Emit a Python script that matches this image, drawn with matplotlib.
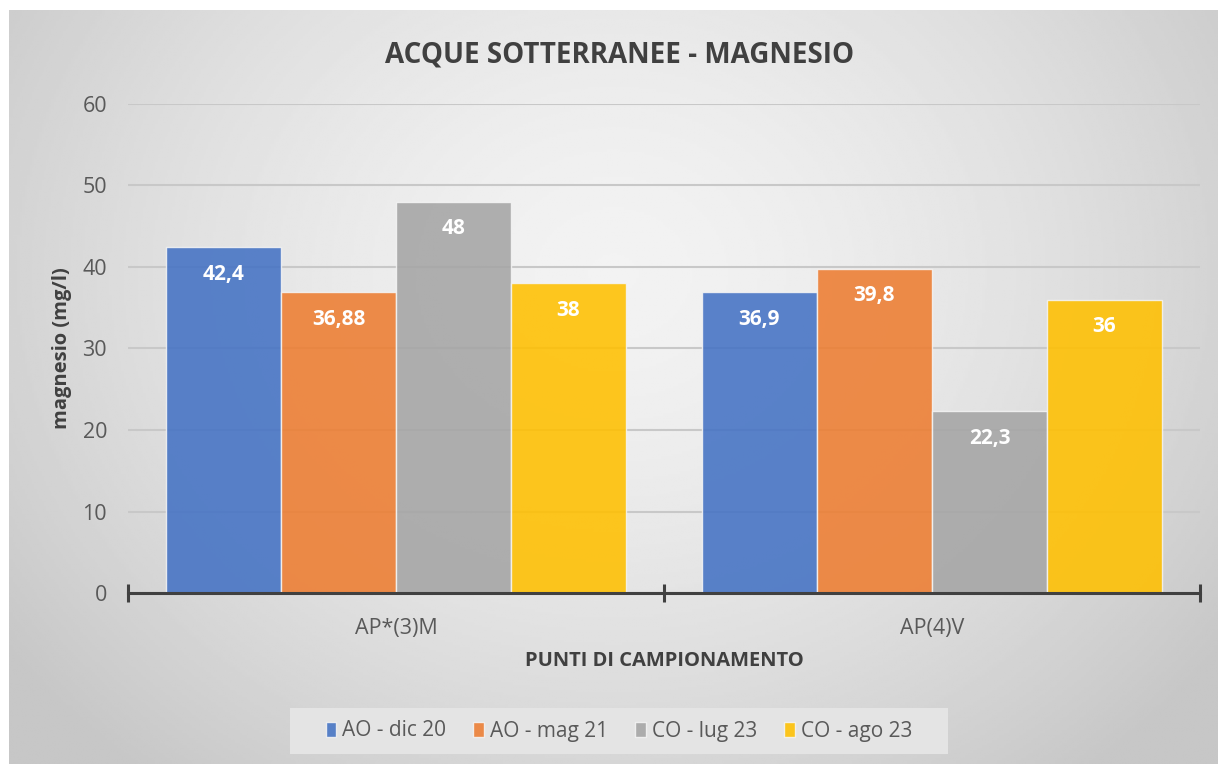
import numpy as np
import matplotlib.pyplot as plt
from matplotlib.patches import Rectangle

plt.rcParams['font.family'] = ['Open Sans', 'DejaVu Sans']

# dati
punti = ['AP*(3)M', 'AP(4)V']
serie = ['AO - dic 20', 'AO - mag 21', 'CO - lug 23', 'CO - ago 23']
ao_dic20 = [42.4, 36.9]
ao_mag21 = [36.88, 39.8]
co_lug23 = [48, 22.3]
co_ago23 = [38, 36]
colori = ['#4472C4', '#ED7D31', '#A5A5A5', '#FFC000']

valori = [ao_dic20, ao_mag21, co_lug23, co_ago23]

fig = plt.figure(figsize=(12.18, 7.64), dpi=100)
W, H = 1218, 764

# sfondo con gradiente radiale (stile Excel)
bg = fig.add_axes([9 / W, 0, 1 - 9 / W, 1 - 10 / H])
yy, xx = np.mgrid[0:1:300j, 0:1:500j]
r = np.sqrt(((xx - 0.5) / 0.62) ** 2 + ((yy - 0.35) / 0.85) ** 2)
r = np.clip(r, 0, 1)
grigio = 0.95 - (0.95 - 0.78) * r ** 1.6
bg.imshow(grigio, cmap='gray', vmin=0, vmax=1, aspect='auto', extent=[0, 1, 1, 0])
bg.axis('off')

ax = fig.add_axes([128 / W, (H - 593) / H, 1072 / W, 489 / H])
ax.patch.set_alpha(0)

w = 0.2146
x = np.array([0.5, 1.5])
for j, (vals, col) in enumerate(zip(valori, colori)):
    pos = x + (j - 1.5) * w
    bars = ax.bar(pos, vals, width=w, color=col, alpha=0.88, edgecolor='#f4f4f4',
                  linewidth=1.0, label=serie[j], zorder=3)
    for b, v in zip(bars, vals):
        testo = ('%g' % v).replace('.', ',')
        ax.annotate(testo, (b.get_x() + b.get_width() / 2, v), xytext=(0, -27),
                    textcoords='offset pixels', ha='center', va='center',
                    color='white', fontsize=15, fontweight='bold', zorder=4)

ax.set_ylim(0, 60)
ax.set_xlim(0, 2)
ax.set_yticks(range(0, 61, 10))
ax.yaxis.grid(True, color='#c8c8c8', linewidth=1.5, zorder=0)
ax.tick_params(axis='y', length=0, pad=15, labelsize=15.5, labelcolor='#595959')

ax.set_xticks([0, 1, 2])
ax.set_xticklabels([])
ax.tick_params(axis='x', which='major', direction='inout', length=13, width=2.2, color='#404040')
ax.set_xticks(x, minor=True)
ax.set_xticklabels(punti, minor=True)
ax.tick_params(axis='x', which='minor', length=0, pad=18, labelsize=15.5, labelcolor='#595959')

for s in ['top', 'right', 'left']:
    ax.spines[s].set_visible(False)
ax.spines['bottom'].set_color('#404040')
ax.spines['bottom'].set_linewidth(2.2)
ax.spines['bottom'].set_zorder(5)

ax.set_ylabel('magnesio (mg/l)', fontsize=14.5, fontweight='bold', color='#404040', va='center')
ax.yaxis.set_label_coords((62 - 128) / 1072, 0.5)
ax.set_xlabel('PUNTI DI CAMPIONAMENTO', fontsize=14.5, fontweight='bold', color='#404040', va='center')
ax.xaxis.set_label_coords(0.5, -(661 - 593) / 489)

fig.text(620 / W, 1 - 55 / H, 'ACQUE SOTTERRANEE - MAGNESIO', ha='center', va='center',
         fontsize=20, fontweight='bold', color='#404040')

# riquadro legenda
fig.patches.append(Rectangle((290 / W, 1 - 754 / H), 658 / W, 46 / H, transform=fig.transFigure,
                             facecolor='#e4e4e4', edgecolor='none', zorder=1))
leg = fig.legend(loc='center', bbox_to_anchor=(619 / W, 1 - 731 / H), ncol=4,
                 frameon=False, fontsize=15, handlelength=0.5, handleheight=0.7,
                 handletextpad=0.3, columnspacing=1.3)
for t in leg.get_texts():
    t.set_color('#595959')

fig.savefig('out.png', dpi=100)
